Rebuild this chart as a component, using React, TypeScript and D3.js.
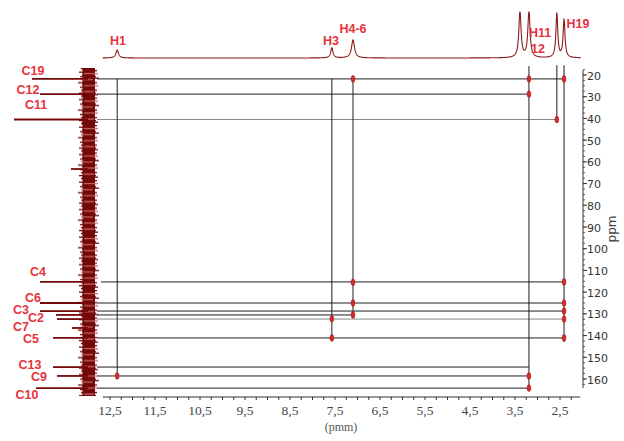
import React from 'react';
import * as d3 from 'd3';

// 1H projection (top)
const hPeakPpm = [12.34, 7.57, 7.1, 3.39, 3.19, 2.57, 2.41];
const hPeakIntensity = [8, 10, 18, 46, 46, 44, 38];
const hPeakWidth = [0.035, 0.03, 0.04, 0.03, 0.03, 0.025, 0.025];
const hLabels = ['H1', 'H3', 'H4-6', 'H11', '12', 'H19'];

// 13C projection (left)
const cPeakPpm = [21.8, 28.8, 40.5, 63.3, 115.3, 125.0, 128.7, 130.5, 132.4, 136.5, 141.1, 154.5, 158.6, 164.2];
const cPeakIntensity = [56, 48, 74, 17, 48, 48, 48, 32, 31, 16, 35, 35, 31, 52];
const cLabels = ['C19', 'C12', 'C11', 'C4', 'C6', 'C3', 'C2', 'C7', 'C5', 'C13', 'C9', 'C10'];

// HMBC guide lines
const hLineC = [21.8, 28.8, 40.5, 115.3, 125.0, 128.7, 130.5, 132.4, 141.1, 154.5, 158.6, 164.2];
const hLineEndH = [2.41, 3.19, 2.57, 2.41, 2.41, 2.41, 7.1, 2.41, 2.41, 3.19, 3.19, 3.19];
const vLineH = [12.34, 7.57, 7.1, 3.19, 2.57, 2.41];
const vLineStartC = [21.8, 21.8, 21.8, 15.9, 15.5, 15.5];
const vLineEndC = [158.6, 141.1, 130.5, 164.2, 40.5, 143.0];

// cross peaks [H ppm, C ppm]
const crossH = [7.1, 3.19, 3.19, 2.41, 2.57, 7.1, 7.1, 7.1, 7.57, 7.57, 2.41, 2.41, 2.41, 2.41, 2.41, 3.19, 3.19, 12.34];
const crossC = [21.8, 21.8, 28.8, 21.8, 40.5, 115.5, 125.0, 130.5, 132.2, 141.1, 115.3, 125.0, 128.7, 132.4, 141.1, 158.6, 164.2, 158.6];

const xTicks = [12.5, 11.5, 10.5, 9.5, 8.5, 7.5, 6.5, 5.5, 4.5, 3.5, 2.5];
const xTickLabels = ['12,5', '11,5', '10,5', '9,5', '8,5', '7,5', '6,5', '5,5', '4,5', '3,5', '2,5'];
const yTicks = [20, 30, 40, 50, 60, 70, 80, 90, 100, 110, 120, 130, 140, 150, 160];

// label layout (pixel anchors)
const hLabelPos = [[118, 40], [331, 40], [353, 28], [540, 32], [538, 48], [578, 23]];
const cLabelPos = [[33, 70], [28, 89], [36, 104], [38, 271], [33, 297], [21, 309], [36, 317], [21, 326], [31, 338], [30, 364], [39, 376], [27, 394]];

// noise texture stripes for the 13C trace: [y offset, left, right, shade]
const noiseStripes: [number, number, number, number][] = [
  [0, 3, 17, 0], [2, 5, 19, 0], [3.5, 1, 15, 0], [5, 6, 20, 1], [6.5, 4, 16, 0], [8, 2, 18, 0],
  [9.5, 6, 21, 0], [11, 3, 15, 1], [12.5, 5, 17, 0], [14, 0, 19, 0], [15.5, 4, 16, 0], [17, 6, 20, 1],
  [18.5, 2, 17, 0], [20, 5, 15, 0], [21.5, 3, 19, 0], [23, 6, 16, 1], [24.5, 1, 18, 0], [26, 4, 20, 0],
];

export default function App() {
  const x = d3.scaleLinear().domain([12.5, 2.5]).range([110, 560]);
  const y = d3.scaleLinear().domain([20, 160]).range([75, 379]);
  const baseTop = 58;
  const baseLeft = 88;

  const grid = d3.range(12.66, 2.04, -0.004);
  const spec = grid.map((p) => {
    let s = 0;
    hPeakPpm.forEach((p0, i) => {
      const g = hPeakWidth[i];
      s += hPeakIntensity[i] * (g * g) / ((p - p0) * (p - p0) + g * g);
    });
    return [p, s] as [number, number];
  });
  const specLine = d3.line<[number, number]>().x((d) => x(d[0])).y((d) => Math.max(12, baseTop - d[1]));

  const axisColor = '#333';
  const red = '#e8323c';
  const maroon = '#740808';

  const xMinor = d3.range(12.5, 2.0, -0.25);
  const yMinor = d3.range(17.5, 165, 2.5);

  return (
    <svg width={624} height={441} style={{ display: 'block', position: 'absolute', left: 0, top: 0, background: '#fff' }}>
      <defs>
        <pattern id="noise" patternUnits="userSpaceOnUse" x={78} y={68} width={21} height={27.5}>
          <rect x={4.5} y={0} width={12.5} height={27.5} fill={maroon} />
          {noiseStripes.map((s, i) => (
            <rect key={i} x={s[1]} y={s[0]} width={s[2] - s[1]} height={1.3} fill={s[3] ? '#c86a6a' : maroon} />
          ))}
        </pattern>
      </defs>

      {hLineC.map((c, i) => {
        const thin = c === 132.4 || c === 40.5;
        return (
          <line key={'hl' + i} x1={c === 115.3 ? 101 : 97} x2={x(hLineEndH[i])} y1={y(c)} y2={y(c)}
            stroke={thin ? '#6a6a6a' : '#1e1e1e'} strokeWidth={thin ? 0.8 : 1} />
        );
      })}
      {vLineH.map((h, i) => (
        <line key={'vl' + i} x1={x(h)} x2={x(h)} y1={y(vLineStartC[i])} y2={y(vLineEndC[i])} stroke="#1e1e1e" strokeWidth={1} />
      ))}

      {crossH.map((h, i) => (
        <ellipse key={'cp' + i} cx={x(h)} cy={y(crossC[i])} rx={1.9} ry={3.4} fill="#d42a2a" stroke="#a01010" strokeWidth={0.5} />
      ))}

      <path d={specLine(spec) || ''} fill="none" stroke="#8b1a1a" strokeWidth={1.1} />

      <rect x={78} y={68} width={21} height={328} fill="url(#noise)" />
      {cPeakPpm.map((c, i) => (
        <line key={'cpk' + i} x1={baseLeft} x2={baseLeft - cPeakIntensity[i]} y1={y(c)} y2={y(c)} stroke={maroon} strokeWidth={1.8} />
      ))}

      <line x1={x(12.66)} x2={x(2.05)} y1={397} y2={397} stroke={axisColor} strokeWidth={1} />
      {xMinor.map((t, i) => (
        <line key={'xm' + i} x1={x(t)} x2={x(t)} y1={397} y2={400} stroke={axisColor} strokeWidth={1} />
      ))}
      {xTicks.map((t, i) => (
        <text key={'xt' + i} x={x(t)} y={415} textAnchor="middle" fontFamily="'Liberation Serif', serif" fontSize={13.5} fill="#444">
          {xTickLabels[i]}
        </text>
      ))}
      <text x={341} y={431} textAnchor="middle" fontFamily="'Liberation Serif', serif" fontSize={12} fill="#555">(pmm)</text>

      <line x1={583} x2={583} y1={y(17.7)} y2={y(164.2)} stroke={axisColor} strokeWidth={1} />
      {yMinor.map((t, i) => (
        <line key={'ym' + i} x1={583} x2={585} y1={y(t)} y2={y(t)} stroke={axisColor} strokeWidth={0.8} />
      ))}
      {yTicks.map((t, i) => (
        <g key={'yt' + i}>
          <line x1={583} x2={587} y1={y(t)} y2={y(t)} stroke={axisColor} strokeWidth={1} />
          <text x={587} y={y(t) + 4.5} fontFamily="'DejaVu Sans', sans-serif" fontSize={11} fill="#333">{t}</text>
        </g>
      ))}
      <text transform="translate(616,229) rotate(-90)" textAnchor="middle" fontFamily="'DejaVu Sans', sans-serif" fontSize={12} fill="#444">ppm</text>

      {hLabels.map((l, i) => (
        <text key={'hlab' + i} x={hLabelPos[i][0]} y={hLabelPos[i][1] + 4.5} textAnchor="middle"
          fontFamily="'Liberation Sans', Arial, sans-serif" fontWeight="bold" fontSize={12.5} fill={red}>{l}</text>
      ))}
      {cLabels.map((l, i) => (
        <text key={'clab' + i} x={cLabelPos[i][0]} y={cLabelPos[i][1] + 4.5} textAnchor="middle"
          fontFamily="'Liberation Sans', Arial, sans-serif" fontWeight="bold" fontSize={12.5} fill={red}>{l}</text>
      ))}
    </svg>
  );
}
